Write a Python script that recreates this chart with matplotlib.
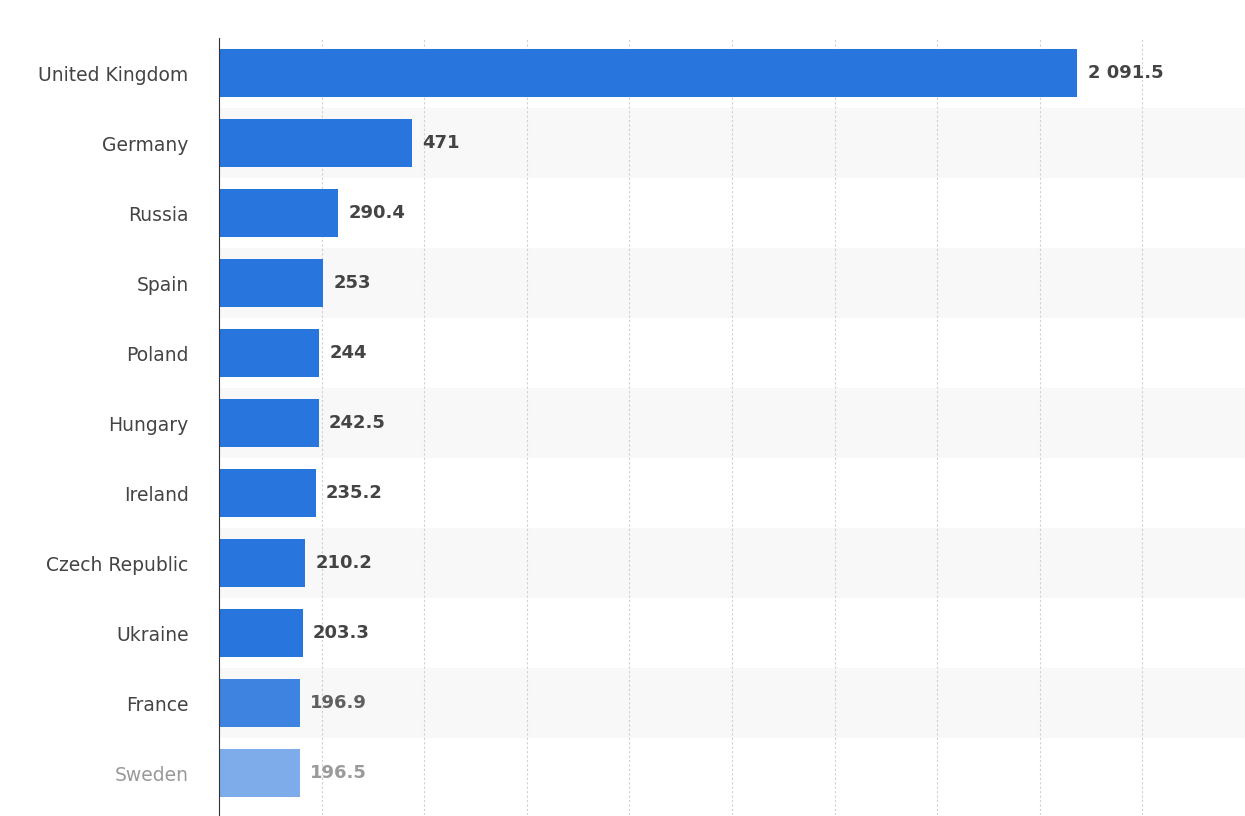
import matplotlib
matplotlib.use("Agg")
import matplotlib.pyplot as plt

countries = ["United Kingdom","Germany","Russia","Spain","Poland","Hungary","Ireland","Czech Republic","Ukraine","France","Sweden"]
values = [2091.5,471,290.4,253,244,242.5,235.2,210.2,203.3,196.9,196.5]
labels = ["2 091.5","471","290.4","253","244","242.5","235.2","210.2","203.3","196.9","196.5"]

fig = plt.figure(figsize=(12.45,8.16), dpi=100)
ax = fig.add_axes([0.176, 0.001, 0.824, 0.952])
ax.set_xlim(0, 2500)
ax.set_ylim(10.6, -0.5)
for i in range(len(countries)):
    if i % 2 == 1:
        ax.axhspan(i-0.5, i+0.5, color="#f8f8f8", zorder=0, lw=0)
for x in range(250, 2500, 250):
    ax.axvline(x, color="#d0d0d0", ls=(0,(2,2)), lw=0.8, zorder=1)
for i, (v, l) in enumerate(zip(values, labels)):
    c = "#2876dd"
    alpha = 1.0
    if i == 9: alpha = 0.9
    if i == 10: alpha = 0.6
    ax.barh(i, v, height=0.69, color=c, alpha=alpha, zorder=2)
    ax.text(v + 25, i, l, va="center", ha="left", fontsize=13, fontweight="bold",
            color="#444444" if i < 10 else "#888888", alpha=1.0 if i < 9 else 0.85)
ax.set_yticks(range(len(countries)))
ax.set_yticklabels(countries, fontsize=13.5, color="#444444")
ax.get_yticklabels()[-1].set_color("#999999")
ax.tick_params(axis="y", length=0, pad=22)
ax.set_xticks([])
for s in ["top","right","bottom"]:
    ax.spines[s].set_visible(False)
ax.spines["left"].set_color("#333333")
fig.savefig("out.png", dpi=100)
